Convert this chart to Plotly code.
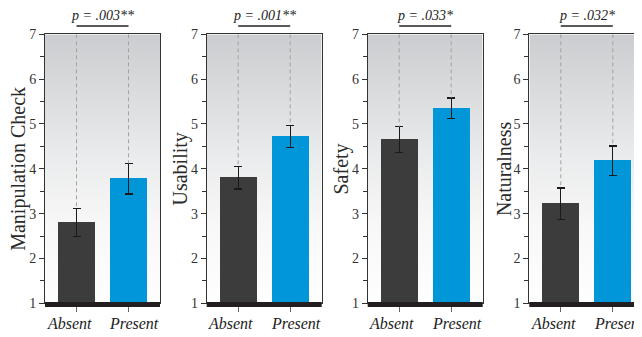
import base64
import plotly.graph_objects as go

# ---------------- data ----------------
measures = ["Manipulation Check", "Usability", "Safety", "Naturalness"]
groups = ["Absent", "Present"]
mean_absent = [2.80, 3.80, 4.65, 3.22]
mean_present = [3.78, 4.72, 5.35, 4.18]
err_absent = [0.31, 0.25, 0.29, 0.35]
err_present = [0.34, 0.25, 0.23, 0.33]
p_labels = ["p = .003**", "p = .001**", "p = .033*", "p = .032*"]
y_ticks = [1, 2, 3, 4, 5, 6, 7]

# ---------------- layout constants ----------------
# the page adds an 8px body margin; the figure is sized to the visible area
OFF = 8
W, H = 642 - OFF, 337 - OFF
panel_left = [45, 206.7, 367.7, 529.3]   # page pixels
panel_w = 115
unit_px = 52.0
x_lo = -31.5 / unit_px
y_bot_px, y_top_px = 303.3, 34.3          # page pixels
label_shift = [-7.5 / unit_px, 5.8 / unit_px]   # category labels sit slightly apart
col_absent = "#3c3c3c"
col_present = "#0096d8"
serif = "Liberation Serif, Times New Roman, serif"


def px_x(p):
    return (p - OFF) / W


def px_y(p):
    return 1 - (p - OFF) / H


svg = ("<svg xmlns='http://www.w3.org/2000/svg' width='100' height='100' preserveAspectRatio='none'>"
       "<defs><linearGradient id='g' x1='0' y1='0' x2='0' y2='1'>"
       "<stop offset='0' stop-color='#cbcdd0'/>"
       "<stop offset='0.45' stop-color='#eaebec'/>"
       "<stop offset='0.72' stop-color='#f8f8f8'/>"
       "<stop offset='1' stop-color='#fefefe'/>"
       "</linearGradient></defs><rect width='100' height='100' fill='url(#g)'/></svg>")
grad_src = "data:image/svg+xml;base64," + base64.b64encode(svg.encode()).decode()

fig = go.Figure()
shapes, annotations, images = [], [], []
layout_axes = {}

for i, name in enumerate(measures):
    n = "" if i == 0 else str(i + 1)
    xa, ya = "x" + n, "y" + n
    left = panel_left[i]
    right = min(left + panel_w, 642)
    x_hi = x_lo + (right - left) / unit_px
    d0, d1 = px_x(left), min(px_x(right), 1.0)

    fig.add_trace(go.Bar(
        x=[0, 1], y=[mean_absent[i], mean_present[i]],
        width=0.71,
        marker=dict(color=[col_absent, col_present], line=dict(width=0)),
        error_y=dict(type="data", array=[err_absent[i], err_present[i]],
                     color="#1a1a1a", thickness=1.4, width=4),
        xaxis=xa, yaxis=ya, showlegend=False, hoverinfo="skip",
    ))

    # dashed guide lines from top of plot down to error bar tops
    for xv, top in ((0, mean_absent[i] + err_absent[i]), (1, mean_present[i] + err_present[i])):
        shapes.append(dict(type="line", xref=xa, yref=ya, x0=xv, x1=xv, y0=7, y1=top,
                           line=dict(color="#a3a3a3", width=1, dash="4px,3px")))

    # significance bracket
    yb = px_y(26)
    shapes.append(dict(type="line", xref=xa, yref="paper", x0=0, x1=1, y0=yb, y1=yb,
                       line=dict(color="#222222", width=1.3)))
    annotations.append(dict(xref=xa, yref="paper", x=0.5, y=px_y(15.5), text="<i>" + p_labels[i] + "</i>",
                            showarrow=False, font=dict(family=serif, size=14, color="#222222"),
                            xanchor="center", yanchor="middle"))

    # category labels
    for k, g in enumerate(groups):
        annotations.append(dict(xref=xa, yref="paper", x=k + label_shift[k], y=px_y(323.5),
                                text="<i>" + g + "</i>", showarrow=False,
                                font=dict(family=serif, size=16, color="#222222"),
                                xanchor="center", yanchor="middle"))

    # thick baseline
    shapes.append(dict(type="line", xref=xa + " domain", yref=ya + " domain", x0=0, x1=1,
                       y0=-0.004, y1=-0.004, line=dict(color="#231f20", width=5)))

    # y title
    annotations.append(dict(xref="paper", yref=ya + " domain", x=px_x(left - 26), y=0.5,
                            text=name, textangle=-90, showarrow=False,
                            font=dict(family=serif, size=20, color="#2a2a2a"),
                            xanchor="center", yanchor="middle"))

    # gradient background
    images.append(dict(source=grad_src, xref=xa, yref=ya, x=x_lo, y=7,
                       sizex=x_hi - x_lo, sizey=6, xanchor="left", yanchor="top",
                       sizing="stretch", layer="below"))

    layout_axes["xaxis" + n] = dict(
        domain=[d0, d1], range=[x_lo, x_hi], anchor=ya, automargin=False,
        tickvals=[0, 1], showticklabels=False,
        ticks="outside", ticklen=8, tickcolor="#666666", tickwidth=1,
        showline=True, mirror=True, linecolor="#333333", linewidth=1,
        showgrid=False, zeroline=False, fixedrange=True,
    )
    layout_axes["yaxis" + n] = dict(
        domain=[px_y(y_bot_px), px_y(y_top_px)], range=[1, 7], anchor=xa, automargin=False,
        tickvals=y_ticks, ticktext=[str(t) for t in y_ticks],
        ticks="outside", ticklen=5, tickcolor="#333333", tickwidth=1,
        minor=dict(dtick=0.5, tick0=1, ticks="outside", ticklen=4, tickcolor="#333333"),
        showline=True, mirror=(i < 3), linecolor="#333333", linewidth=1,
        showgrid=False, zeroline=False, fixedrange=True,
        tickfont=dict(family=serif, size=14, color="#333333"),
    )

fig.update_layout(
    width=W, height=H, margin=dict(l=0, r=0, t=0, b=0, pad=0, autoexpand=False),
    paper_bgcolor="white", plot_bgcolor="white",
    shapes=shapes, annotations=annotations, images=images,
    bargap=0, **layout_axes,
)

fig.write_html("out.html")
